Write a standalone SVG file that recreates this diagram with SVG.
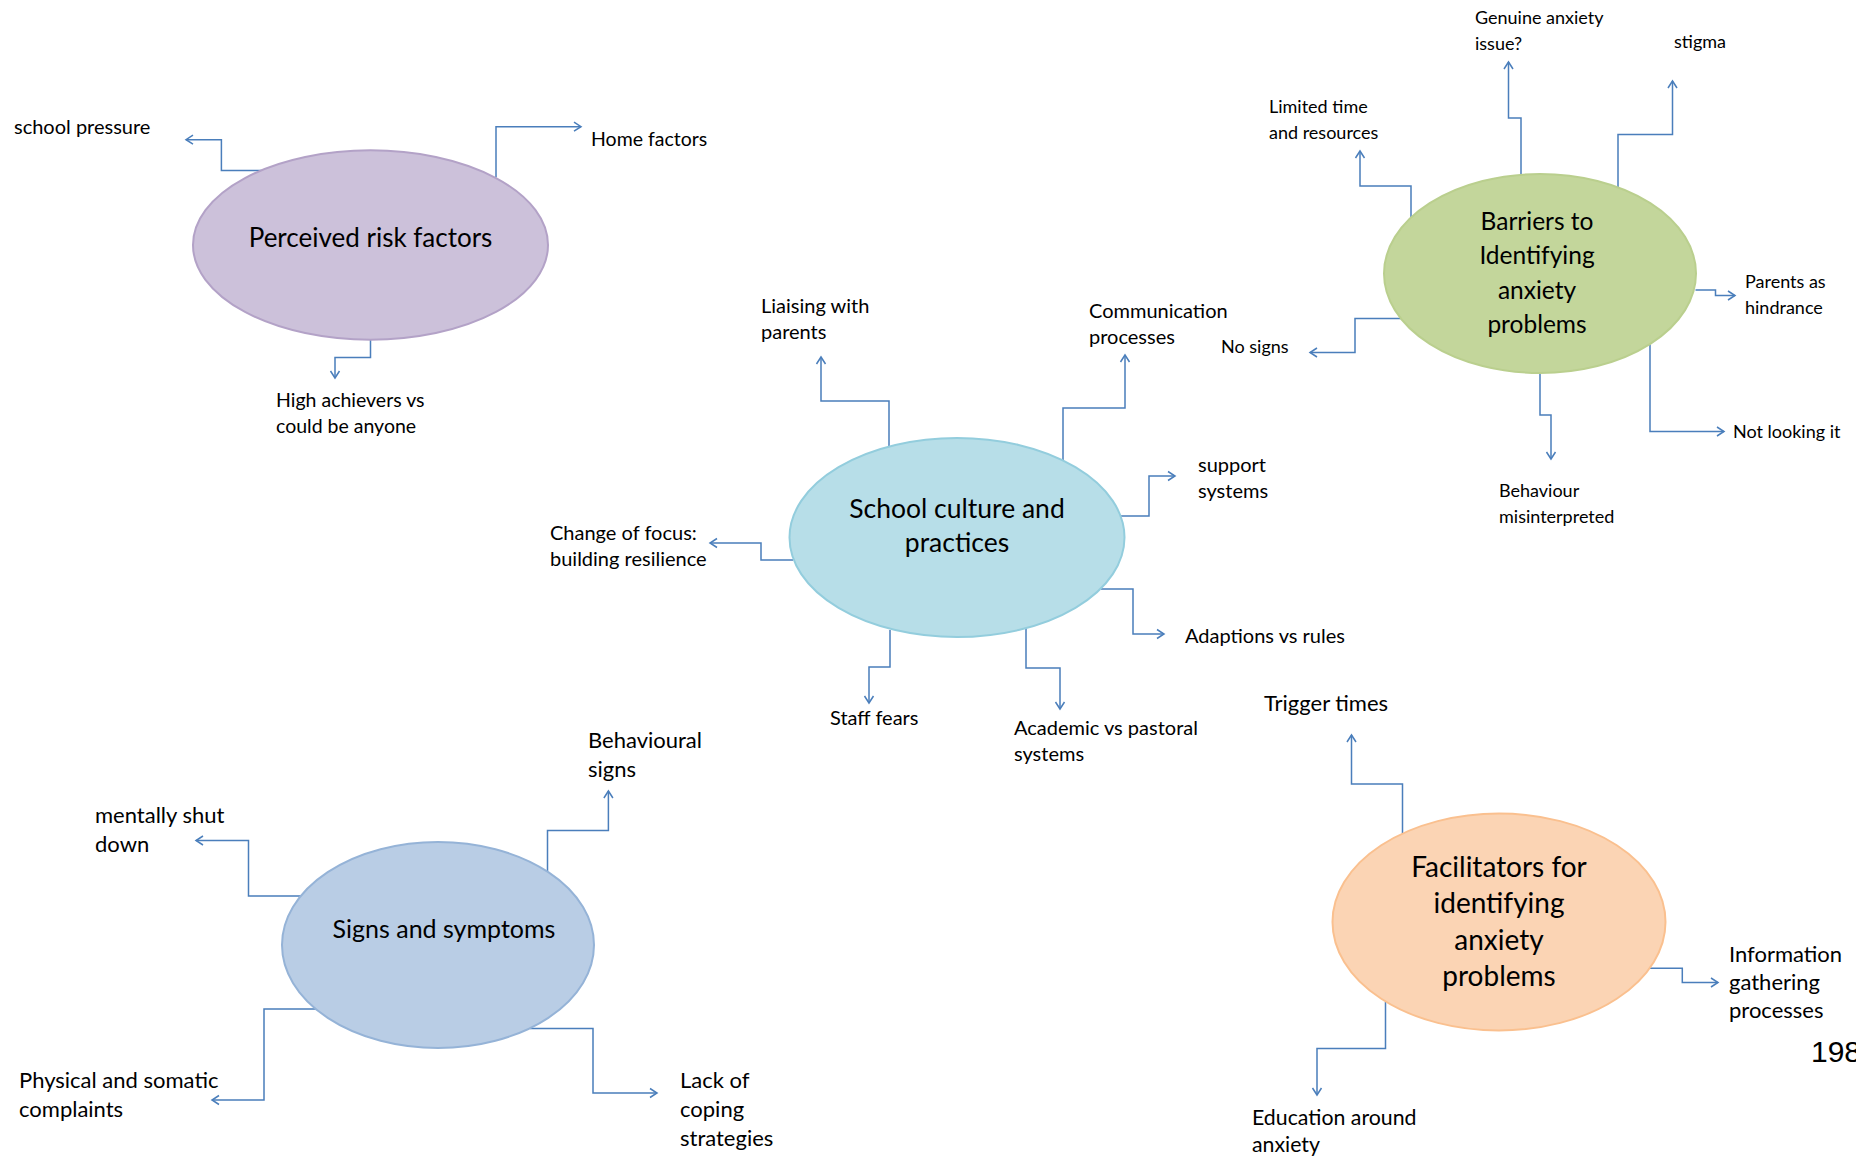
<svg xmlns="http://www.w3.org/2000/svg" width="1856" height="1157" viewBox="0 0 1856 1157">
<style>
.lbl{font-family:Lato,"Liberation Sans",sans-serif;fill:#000}
.s19{font-size:18px}
.s21{font-size:19.5px}
.s20{font-size:20px}
.s24{font-size:22px}
.ttl{font-family:Lato,"Liberation Sans",sans-serif;fill:#000;text-anchor:middle}
.con{fill:none;stroke:#4A7EBB;stroke-width:1.5}
</style>
<defs>
<marker id="arr" markerWidth="12" markerHeight="12" refX="10" refY="6" orient="auto" markerUnits="userSpaceOnUse">
<path d="M3,1.5 L10,6 L3,10.5" fill="none" stroke="#4A7EBB" stroke-width="1.5"/>
</marker>
</defs>
<rect width="1856" height="1157" fill="#fff"/>

<g id="connectors">
<!-- node 1 -->
<path class="con" marker-end="url(#arr)" d="M262,170.5 H221.4 V139.7 H186"/>
<path class="con" marker-end="url(#arr)" d="M496,177.6 V126.7 H581"/>
<path class="con" marker-end="url(#arr)" d="M370.5,339.7 V357.5 H335 V378"/>
<!-- node 2 -->
<path class="con" marker-end="url(#arr)" d="M889,446 V401 H821 V357"/>
<path class="con" marker-end="url(#arr)" d="M1063,462 V408 H1125 V355"/>
<path class="con" marker-end="url(#arr)" d="M1121,516 H1149 V476 H1175"/>
<path class="con" marker-end="url(#arr)" d="M793,560 H761 V543 H710"/>
<path class="con" marker-end="url(#arr)" d="M1101,589 H1133 V634 H1164"/>
<path class="con" marker-end="url(#arr)" d="M890,630 V667 H869 V703"/>
<path class="con" marker-end="url(#arr)" d="M1026,627 V668 H1060 V709"/>
<!-- node 3 -->
<path class="con" marker-end="url(#arr)" d="M1411,221 V186 H1360 V151"/>
<path class="con" marker-end="url(#arr)" d="M1521,175 V118 H1508.5 V62"/>
<path class="con" marker-end="url(#arr)" d="M1618,188 V134.5 H1672.5 V81"/>
<path class="con" marker-end="url(#arr)" d="M1695.5,290 H1715.5 V295.5 H1735"/>
<path class="con" marker-end="url(#arr)" d="M1650,344.5 V431.5 H1724"/>
<path class="con" marker-end="url(#arr)" d="M1540,373.5 V415 H1551 V459"/>
<path class="con" marker-end="url(#arr)" d="M1401,318.5 H1355 V352.5 H1310"/>
<!-- node 4 -->
<path class="con" marker-end="url(#arr)" d="M301.5,896 H248.5 V840.5 H196"/>
<path class="con" marker-end="url(#arr)" d="M547.5,871.5 V830.5 H608.4 V791"/>
<path class="con" marker-end="url(#arr)" d="M316.5,1009 H264 V1100 H212"/>
<path class="con" marker-end="url(#arr)" d="M530,1028.5 H593 V1093 H657"/>
<!-- node 5 -->
<path class="con" marker-end="url(#arr)" d="M1402.5,834 V784 H1351.5 V735"/>
<path class="con" marker-end="url(#arr)" d="M1648,968.3 H1682.3 V982.5 H1718"/>
<path class="con" marker-end="url(#arr)" d="M1385.5,1002 V1048.5 H1317 V1095"/>
</g>

<g id="node-risk">
<ellipse cx="370.5" cy="245" rx="177.5" ry="94.7" fill="#CCC1DA" stroke="#B3A2C7" stroke-width="2"/>
<text class="ttl" x="370.5" y="247" font-size="26">Perceived risk factors</text>
</g>
<g id="label-risk">
<text class="lbl s20" x="14" y="134">school pressure</text>
<text class="lbl s21" x="591" y="146">Home factors</text>
<text class="lbl s21" x="276" y="407">High achievers vs</text>
<text class="lbl s21" x="276" y="433">could be anyone</text>
</g>

<g id="node-school">
<ellipse cx="957" cy="537.5" rx="167.5" ry="99.5" fill="#B7DEE8" stroke="#93CDDD" stroke-width="2"/>
<text class="ttl" x="957" y="518" font-size="26.5">School culture and</text>
<text class="ttl" x="957" y="552" font-size="26.5">practices</text>
</g>
<g id="label-school">
<text class="lbl s20" x="761" y="313">Liaising with</text>
<text class="lbl s20" x="761" y="339">parents</text>
<text class="lbl s20" x="1089" y="318">Communication</text>
<text class="lbl s20" x="1089" y="344">processes</text>
<text class="lbl s20" x="1198" y="472">support</text>
<text class="lbl s20" x="1198" y="498">systems</text>
<text class="lbl s20" x="550" y="540">Change of focus:</text>
<text class="lbl s20" x="550" y="566">building resilience</text>
<text class="lbl s20" x="1185" y="643">Adaptions vs rules</text>
<text class="lbl s20" x="830" y="725">Staff fears</text>
<text class="lbl s20" x="1014" y="735">Academic vs pastoral</text>
<text class="lbl s20" x="1014" y="761">systems</text>
</g>

<g id="node-barriers">
<ellipse cx="1540" cy="273.5" rx="156" ry="99.5" fill="#C3D69B" stroke="#BACF8E" stroke-width="2"/>
<text class="ttl" x="1537" y="230" font-size="24.5">Barriers to</text>
<text class="ttl" x="1537" y="264" font-size="24.5">Identifying</text>
<text class="ttl" x="1537" y="299" font-size="24.5">anxiety</text>
<text class="ttl" x="1537" y="333" font-size="24.5">problems</text>
</g>
<g id="label-barriers">
<text class="lbl s19" x="1475" y="24">Genuine anxiety</text>
<text class="lbl s19" x="1475" y="50">issue?</text>
<text class="lbl s19" x="1674" y="48">stigma</text>
<text class="lbl s19" x="1269" y="113">Limited time</text>
<text class="lbl s19" x="1269" y="139">and resources</text>
<text class="lbl s19" x="1745" y="288">Parents as</text>
<text class="lbl s19" x="1745" y="314">hindrance</text>
<text class="lbl s19" x="1221" y="353">No signs</text>
<text class="lbl s19" x="1733" y="438">Not looking it</text>
<text class="lbl s19" x="1499" y="497">Behaviour</text>
<text class="lbl s19" x="1499" y="523">misinterpreted</text>
</g>

<g id="node-signs">
<ellipse cx="438" cy="945" rx="156" ry="103" fill="#B9CDE5" stroke="#95B3D7" stroke-width="2"/>
<text class="ttl" x="444" y="938" font-size="25">Signs and symptoms</text>
</g>
<g id="label-signs">
<text class="lbl s24" x="95" y="823">mentally shut</text>
<text class="lbl s24" x="95" y="852">down</text>
<text class="lbl s24" x="588" y="748">Behavioural</text>
<text class="lbl s24" x="588" y="777">signs</text>
<text class="lbl s24" x="19" y="1088">Physical and somatic</text>
<text class="lbl s24" x="19" y="1117">complaints</text>
<text class="lbl s24" x="680" y="1088">Lack of</text>
<text class="lbl s24" x="680" y="1117">coping</text>
<text class="lbl s24" x="680" y="1146">strategies</text>
</g>

<g id="node-facilitators">
<ellipse cx="1499" cy="922" rx="166.5" ry="108.5" fill="#FBD4B4" stroke="#FAC08F" stroke-width="2"/>
<text class="ttl" x="1499" y="877" font-size="28">Facilitators for</text>
<text class="ttl" x="1499" y="913" font-size="28">identifying</text>
<text class="ttl" x="1499" y="950" font-size="28">anxiety</text>
<text class="ttl" x="1499" y="986" font-size="28">problems</text>
</g>
<g id="label-facilitators">
<text class="lbl s24" x="1264" y="711" font-size="21.5">Trigger times</text>
<text class="lbl s24" x="1729" y="962">Information</text>
<text class="lbl s24" x="1729" y="990">gathering</text>
<text class="lbl s24" x="1729" y="1018">processes</text>
<text class="lbl" x="1252" y="1125" font-size="21.3">Education around</text>
<text class="lbl" x="1252" y="1152" font-size="21.3">anxiety</text>
</g>

<text x="1811" y="1062" font-family="'Liberation Sans',Arial,sans-serif" font-size="30" fill="#000">198</text>
</svg>
